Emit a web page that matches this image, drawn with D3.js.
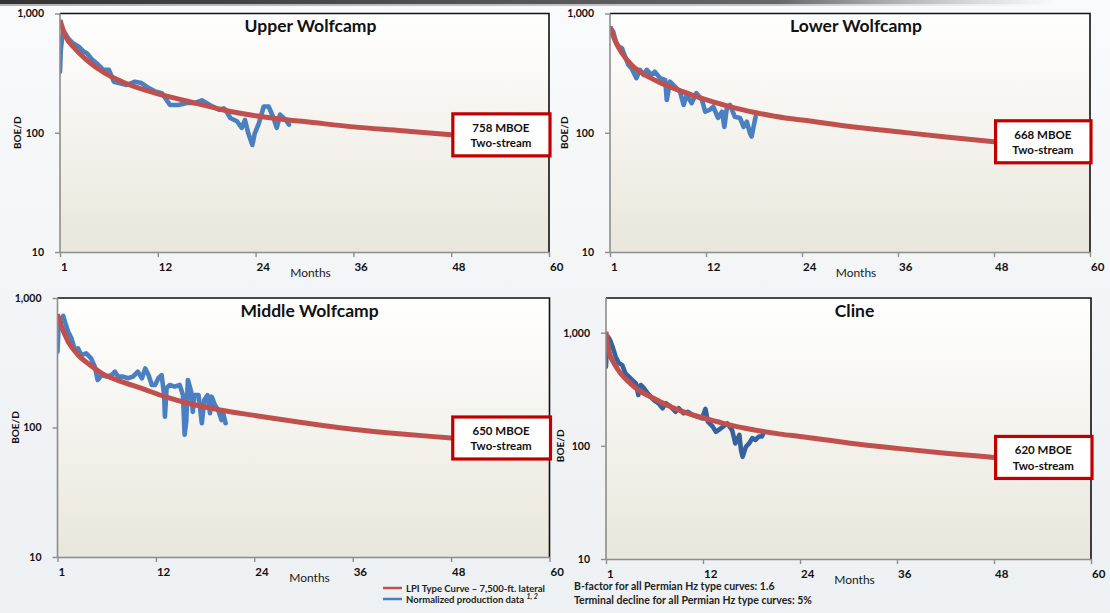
<!DOCTYPE html>
<html>
<head>
<meta charset="utf-8">
<script src="https://cdn.jsdelivr.net/npm/d3@7"></script>
<style>
  html, body { margin: 0; padding: 0; }
  body {
    width: 1110px; height: 613px; overflow: hidden;
    background: linear-gradient(180deg, #f9fafb 0%, #f1f3f6 60%, #eef1f4 100%);
    font-family: Lato, "Open Sans", sans-serif;
  }
</style>
</head>
<body>
<svg id="chart"></svg>
<script>
const W = 1110, H = 613;

// shared axis values
const monthTicks = [0, 12, 24, 36, 48, 60];
const monthLabels = ["1", "12", "24", "36", "48", "60"];
const rateTicks = [10, 100, 1000];

const titles = ["Upper Wolfcamp", "Lower Wolfcamp", "Middle Wolfcamp", "Cline"];
const eurLabels = ["758 MBOE", "668 MBOE", "650 MBOE", "620 MBOE"];

// type curves [month, BOE/D]
const upperType = [[0,883],[0.6,661],[1.8,511],[3.5,395],[5.5,316],[7.6,268],[11.7,215],[15.8,183],[19.9,156],[24,139],[28,128],[30,124],[36,112],[42,104],[48,96],[54,90],[60,85]];
const lowerType = [[0,776],[0.6,600],[1.5,464],[2.7,370],[4.4,305],[6,268],[7.7,240],[10.2,208],[12.7,183],[15.2,164],[18.1,148],[21.9,133],[24,128],[30,113],[36,102],[42,92],[48,84],[54,78],[60,73]];
const middleType = [[0,748],[0.5,600],[1.3,460],[2.5,363],[3.7,313],[5.4,262],[7.8,226],[10.2,201],[13.1,173],[15.9,154],[20,136],[24,124],[30,109],[36,97],[42,89],[48,83],[54,77],[60,72]];
const clineType = [[0,1020],[0.37,680],[1,537],[1.8,437],[3,357],[4.3,301],[5.9,263],[7.5,230],[9.6,200],[11.7,179],[13.7,164],[15.8,150],[17.9,140],[21.6,127],[24,121],[30,106],[36,95],[42,86],[48,79],[54,73],[60,68]];

// normalized production data [month, BOE/D]
const upperProd = [[0,326],[0.1,495],[0.3,661],[0.5,705],[1,620],[1.6,563],[2.3,527],[2.9,479],[3.3,464],[3.9,414],[4.7,371],[5.1,350],[5.3,337],[6,337],[6.6,268],[7.2,261],[8.2,252],[9.2,268],[10,261],[10.9,237],[11.7,222],[12.5,215],[13.5,171],[14.5,171],[15.6,178],[16.6,178],[17.4,187],[18.4,171],[19.5,156],[20.1,160],[20.3,156],[20.9,133],[21.7,125],[22.3,110],[22.7,128],[23.1,99],[23.6,79],[23.9,99],[24.4,120],[25,166],[25.6,166],[26.2,133],[26.6,110],[27,142],[27.7,128],[28.1,117]];
const lowerProd = [[0,682],[0.1,751],[0.4,704],[0.8,562],[1.1,527],[1.5,511],[1.9,434],[2.3,370],[2.7,347],[3.3,287],[3.75,337],[4.2,305],[4.6,337],[5.2,305],[5.6,325],[6.25,287],[6.9,277],[7.1,188],[7.5,268],[7.9,252],[8.75,221],[9.2,171],[9.6,208],[10.2,177],[10.8,215],[11.5,188],[11.9,150],[12.5,156],[12.9,166],[13.5,133],[14,150],[14.3,112],[14.6,160],[15,171],[15.6,136],[16.25,133],[16.7,112],[17.1,124],[17.5,99],[17.7,93],[18,117],[18.2,136]];
const middleProd = [[0,385],[0.1,549],[0.16,676],[0.4,657],[0.7,729],[0.9,657],[1.3,549],[1.7,489],[2.1,397],[2.5,409],[2.9,363],[3.5,374],[4.1,342],[4.55,295],[4.9,233],[5.4,254],[6,247],[6.6,254],[7,270],[7.4,247],[8,247],[8.6,240],[9.2,247],[9.8,270],[10.3,240],[10.7,286],[11.1,254],[11.5,213],[11.9,213],[12.3,240],[12.7,254],[13,178],[13.1,121],[13.3,201],[13.7,213],[14.3,207],[14.9,213],[15.3,178],[15.5,88],[15.7,111],[15.9,233],[16.3,189],[16.5,132],[16.7,178],[17.2,178],[17.6,108],[17.9,163],[18.3,178],[18.6,129],[18.8,173],[19.2,149],[19.6,136],[20,114],[20.2,129],[20.5,108]];
const clineProd = [[0,501],[0.08,703],[0.25,922],[0.5,862],[0.8,754],[1.2,614],[1.6,537],[2,519],[2.4,437],[3.05,395],[3.7,357],[4,282],[4.3,345],[4.7,323],[5.3,282],[5.9,254],[6.5,238],[7,215],[7.4,238],[8,222],[8.6,200],[9,215],[9.6,194],[10.1,200],[10.7,188],[11.3,181],[11.9,175],[12.3,212],[12.6,164],[13.2,148],[13.6,133],[14.2,143],[15,158],[15.6,138],[16,105],[16.5,125],[16.7,92],[16.9,80],[17.3,98],[17.7,105],[18.1,117],[18.5,113],[18.9,121],[19.3,121],[19.5,131]];

const typeSeries = [upperType, lowerType, middleType, clineType];
const prodSeries = [upperProd, lowerProd, middleProd, clineProd];

// panel placement on the page
const panels = [
  { left: 60,   right: 549,  top: 13.5, y1000: 13.5,  y10: 252, blue: "#4a80c2" },
  { left: 610,  right: 1090, top: 13.5, y1000: 13.5,  y10: 252, blue: "#4a80c2" },
  { left: 57.5, right: 549.5, top: 298, y1000: 298,   y10: 557, blue: "#4a80c2" },
  { left: 606,  right: 1091, top: 298,  y1000: 332.7, y10: 559, blue: "#35629f" }
];

const svg = d3.select("#chart").attr("width", W).attr("height", H);
const defs = svg.append("defs");

const bg = defs.append("linearGradient").attr("id", "plotBg")
  .attr("x1", 0).attr("y1", 0).attr("x2", 0).attr("y2", 1);
bg.append("stop").attr("offset", "0%").attr("stop-color", "#ffffff");
bg.append("stop").attr("offset", "100%").attr("stop-color", "#e9e6db");

const band = defs.append("linearGradient").attr("id", "topBand")
  .attr("x1", 0).attr("y1", 0).attr("x2", 1).attr("y2", 0);
band.append("stop").attr("offset", "0%").attr("stop-color", "#333").attr("stop-opacity", 1);
band.append("stop").attr("offset", "70%").attr("stop-color", "#555").attr("stop-opacity", 0.9);
band.append("stop").attr("offset", "95%").attr("stop-color", "#8a8a8a").attr("stop-opacity", 0);

svg.append("rect").attr("x", 0).attr("y", 0).attr("width", W).attr("height", 4)
  .attr("fill", "url(#topBand)");
svg.append("rect").attr("x", 0).attr("y", 4).attr("width", W).attr("height", 2)
  .attr("fill", "url(#topBand)").attr("opacity", 0.35);

panels.forEach((p, i) => {
  const x = d3.scaleLinear().domain([0, 60]).range([p.left, p.right]);
  const y = d3.scaleLog().domain([10, 1000]).range([p.y10, p.y1000]);
  const g = svg.append("g");

  g.append("rect")
    .attr("x", p.left).attr("y", p.top)
    .attr("width", p.right - p.left).attr("height", p.y10 - p.top)
    .attr("fill", "url(#plotBg)");

  defs.append("clipPath").attr("id", "clip" + i)
    .append("rect")
    .attr("x", p.left).attr("y", p.top)
    .attr("width", p.right - p.left).attr("height", p.y10 - p.top);

  const line = d3.line()
    .x(d => x(d[0]))
    .y(d => y(d[1]));

  const lines = g.append("g").attr("clip-path", `url(#clip${i})`);

  lines.append("path")
    .datum(prodSeries[i])
    .attr("fill", "none")
    .attr("stroke", p.blue)
    .attr("stroke-width", 4.6)
    .attr("stroke-linejoin", "round")
    .attr("stroke-linecap", "round")
    .attr("d", line);

  lines.append("path")
    .datum(typeSeries[i])
    .attr("fill", "none")
    .attr("stroke", "#c0504d")
    .attr("stroke-width", 5)
    .attr("d", line.curve(d3.curveMonotoneX));

  // frame: dark top and right edges
  g.append("path")
    .attr("d", `M${p.left},${p.top}H${p.right}V${p.y10}`)
    .attr("fill", "none")
    .attr("stroke", "#111")
    .attr("stroke-width", 1.6);

  const yAxis = g.append("g")
    .attr("transform", `translate(${p.left},0)`)
    .call(d3.axisLeft(y).tickValues(rateTicks).tickFormat(d3.format(","))
      .tickSize(5).tickSizeOuter(0).tickPadding(11));
  yAxis.select(".domain").remove();
  yAxis.append("line")
    .attr("y1", p.top).attr("y2", p.y10)
    .attr("stroke", "#8d8d8d").attr("stroke-width", 1.6);

  const xAxis = g.append("g")
    .attr("transform", `translate(0,${p.y10})`)
    .call(d3.axisBottom(x).tickValues(monthTicks).tickFormat((d, k) => monthLabels[k])
      .tickSize(5).tickSizeOuter(0).tickPadding(6));
  xAxis.select(".domain").attr("stroke", "#8d8d8d").attr("stroke-width", 1.6);
  xAxis.selectAll("text").attr("text-anchor", "start").attr("dx", "0.5")
    .style("font-size", "11.5px");

  [yAxis, xAxis].forEach(a => {
    a.selectAll(".tick line").attr("stroke", "#8d8d8d").attr("stroke-width", 1.4);
    a.selectAll("text")
      .attr("fill", "#111")
      .style("font-family", "Lato, sans-serif")
      .style("font-weight", "700");
  });
  yAxis.selectAll("text").style("font-size", "10.5px");

  const cx = (p.left + p.right) / 2 + 6;

  g.append("text")
    .attr("x", cx).attr("y", p.top + 18.5)
    .attr("text-anchor", "middle")
    .style("font-size", "17.5px").style("font-weight", "700")
    .attr("fill", "#111")
    .text(titles[i]);

  g.append("text")
    .attr("x", cx).attr("y", p.y10 + 25)
    .attr("text-anchor", "middle")
    .style("font-size", "12px")
    .attr("fill", "#1a1a1a")
    .text("Months");

  g.append("text")
    .attr("transform", `translate(${i % 2 ? p.left - 42 : p.left - 39},${y(100)}) rotate(-90)`)
    .attr("text-anchor", "middle")
    .style("font-size", "10px").style("font-weight", "700")
    .attr("fill", "#111")
    .text("BOE/D");

  // EUR callout box centred on the type curve at month 48
  const boxLeft = x(48.2);
  const boxMid = y(typeSeries[i].find(d => d[0] === 48)[1]);
  const boxH = 42;
  g.append("rect")
    .attr("x", boxLeft).attr("y", boxMid - boxH / 2)
    .attr("width", p.right - boxLeft + 1).attr("height", boxH)
    .attr("fill", "#fff")
    .attr("stroke", "#c00000")
    .attr("stroke-width", 3.2);
  const bx = (boxLeft + p.right) / 2;
  g.append("text")
    .attr("x", bx).attr("y", boxMid - 3)
    .attr("text-anchor", "middle")
    .style("font-size", "11.5px").style("font-weight", "700")
    .attr("fill", "#111")
    .text(eurLabels[i]);
  g.append("text")
    .attr("x", bx).attr("y", boxMid + 12.5)
    .attr("text-anchor", "middle")
    .style("font-size", "11.5px").style("font-weight", "700")
    .attr("fill", "#111")
    .text("Two-stream");
});

// legend
const legend = svg.append("g").attr("transform", "translate(383,588)");
legend.append("line").attr("x1", 0).attr("x2", 19).attr("y1", 0).attr("y2", 0)
  .attr("stroke", "#c0504d").attr("stroke-width", 2.5);
legend.append("line").attr("x1", 0).attr("x2", 19).attr("y1", 11).attr("y2", 11)
  .attr("stroke", "#4a80c2").attr("stroke-width", 2.5);
legend.append("text").attr("x", 23).attr("y", 3.5)
  .style("font-size", "9.5px").style("font-weight", "700").attr("fill", "#222")
  .text("LPI Type Curve \u2013 7,500-ft. lateral");
const leg2 = legend.append("text").attr("x", 23).attr("y", 14.5)
  .style("font-size", "9.5px").style("font-weight", "700").attr("fill", "#222");
leg2.append("tspan").text("Normalized production data ");
leg2.append("tspan").attr("dy", -4).style("font-size", "7px")
  .style("font-style", "italic").style("font-weight", "700").text("1, 2");

// footnotes
const notes = ["B-factor for all Permian Hz type curves: 1.6",
               "Terminal decline for all Permian Hz type curves: 5%"];
svg.append("g").selectAll("text").data(notes).join("text")
  .attr("x", 574).attr("y", (d, i) => 590 + i * 14)
  .style("font-size", "10.5px").style("font-weight", "700").attr("fill", "#222")
  .text(d => d);
</script>
</body>
</html>
